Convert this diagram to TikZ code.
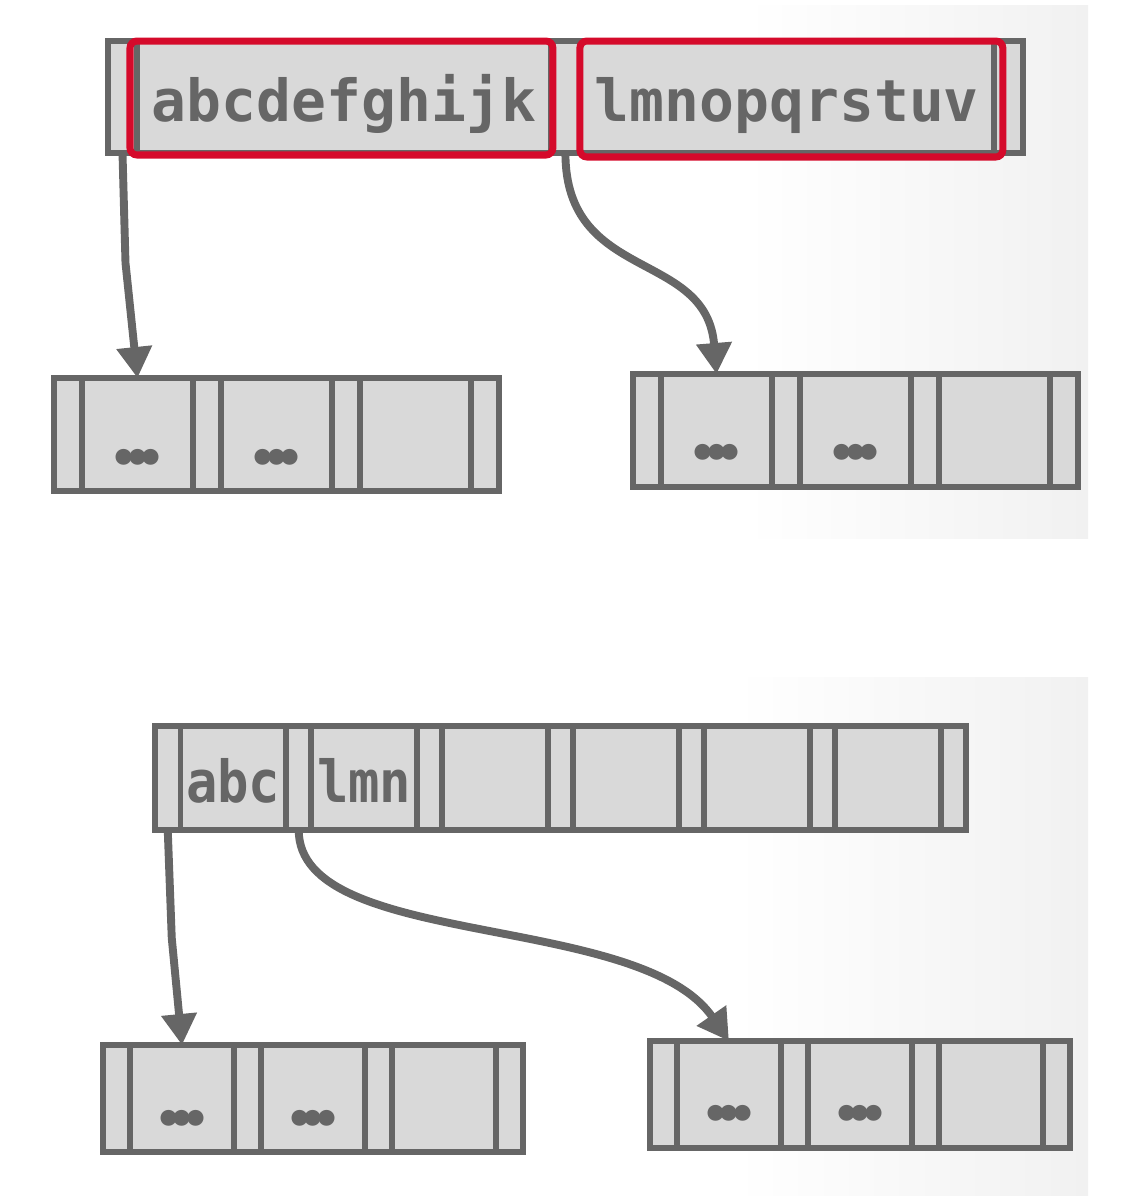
\documentclass[tikz,border=0pt]{standalone}
\usepackage{graphicx}
\usepackage{fontspec}
\setmonofont{DejaVu Sans Mono}
\newfontfamily\dotfont[LetterSpace=-11]{Lato}
\usetikzlibrary{positioning,arrows.meta}

\definecolor{edgegray}{HTML}{666666}
\definecolor{cellgray}{HTML}{D9D9D9}
\definecolor{hlred}{HTML}{D50A2B}
\definecolor{panelgray}{HTML}{F1F1F1}

\tikzset{
  cell/.style={rectangle, draw=edgegray, fill=cellgray, line width=3.4pt, inner sep=0pt, outer sep=0pt},
  keytext/.style={anchor=base, text=edgegray, inner sep=0pt, font=\ttfamily\bfseries\fontsize{33}{33}\selectfont},
  dots/.style={text=edgegray, inner sep=0pt, font=\dotfont\bfseries\fontsize{60}{60}\selectfont},
  link/.style={draw=edgegray, line width=4.5pt, -{Triangle[width=0.68cm,length=0.62cm]}},
  hl/.style={draw=hlred, line width=4pt, rounded corners=4pt},
}

\begin{document}
\begin{tikzpicture}[x=0.02cm,y=-0.02cm]
    \useasboundingbox (0,0) rectangle (1144,1204);
    \fill[left color=white, right color=panelgray] (745,5) rectangle (1088,538);
    \fill[left color=white, right color=panelgray] (735,677) rectangle (1088,1195);

    % upper tree
    \coordinate (R0) at (108,97);
    \foreach \i in {1,...,5} {
        \pgfmathtruncatemacro\h{\i-1}
        \pgfmathsetmacro\w{isodd(\i) ? 0.58 : 8.28}
        \node[cell, minimum width=\w cm, minimum height=2.24cm, right=0pt of R\h] (R\i) {};
    }
    \foreach \n/\x/\y in {L/54/434.5, Q/633/430.5} {
        \coordinate (\n0) at (\x,\y);
        \foreach \i in {1,...,7} {
            \pgfmathtruncatemacro\h{\i-1}
            \pgfmathsetmacro\w{isodd(\i) ? 0.56 : 2.22}
            \node[cell, minimum width=\w cm, minimum height=2.26cm, right=0pt of \n\h] (\n\i) {};
        }
    }
    \draw[hl] ([shift={(-7,0)}]R2.north west) rectangle ([shift={(2,2)}]R2.south east);
    \draw[hl] ([shift={(0,0)}]R4.north west) rectangle ([shift={(9,4)}]R4.south east);
    \node[keytext] (T1) at ([yshift=-0.5cm]R2.center) {abcdefghijk};
    \node[keytext] (T2) at ([yshift=-0.5cm]R4.center) {lmnopqrstuv};
    \node[dots] (D1) at ([yshift=-0.45cm]L2.center) {...};
    \node[dots] (D2) at ([yshift=-0.45cm]L4.center) {...};
    \node[dots] (D3) at ([yshift=-0.43cm]Q2.center) {...};
    \node[dots] (D4) at ([yshift=-0.43cm]Q4.center) {...};
    \draw[link] (R1.south) -- ++(3,110) -- (L2.north);
    \draw[link] (R3.south) .. controls +(0,130) and +(-10,-125) .. (Q2.north);

    % lower tree
    \coordinate (S0) at (155,778);
    \foreach \i in {1,...,13} {
        \pgfmathtruncatemacro\h{\i-1}
        \pgfmathsetmacro\w{isodd(\i) ? 0.51 : 2.11}
        \node[cell, minimum width=\w cm, minimum height=2.08cm, right=0pt of S\h] (S\i) {};
    }
    \foreach \n/\x/\y in {B/103/1098.5, C/650/1094.5} {
        \coordinate (\n0) at (\x,\y);
        \foreach \i in {1,...,7} {
            \pgfmathtruncatemacro\h{\i-1}
            \pgfmathsetmacro\w{isodd(\i) ? 0.54 : 2.08}
            \node[cell, minimum width=\w cm, minimum height=2.14cm, right=0pt of \n\h] (\n\i) {};
        }
    }
    \node[keytext] (T3) at ([yshift=-0.48cm]S2.center) {\scalebox{0.9}[1]{abc}};
    \node[keytext] (T4) at ([yshift=-0.48cm]S4.center) {\scalebox{0.9}[1]{lmn}};
    \node[dots] (D5) at ([yshift=-0.39cm]B2.center) {...};
    \node[dots] (D6) at ([yshift=-0.39cm]B4.center) {...};
    \node[dots] (D7) at ([yshift=-0.38cm]C2.center) {...};
    \node[dots] (D8) at ([yshift=-0.38cm]C4.center) {...};
    \draw[link] (S1.south) -- ++(4,108) -- (B2.north);
    \draw[link] (S3.south) .. controls +(0,120) and +(-90,-130) .. (C2.north);
\end{tikzpicture}
\end{document}
